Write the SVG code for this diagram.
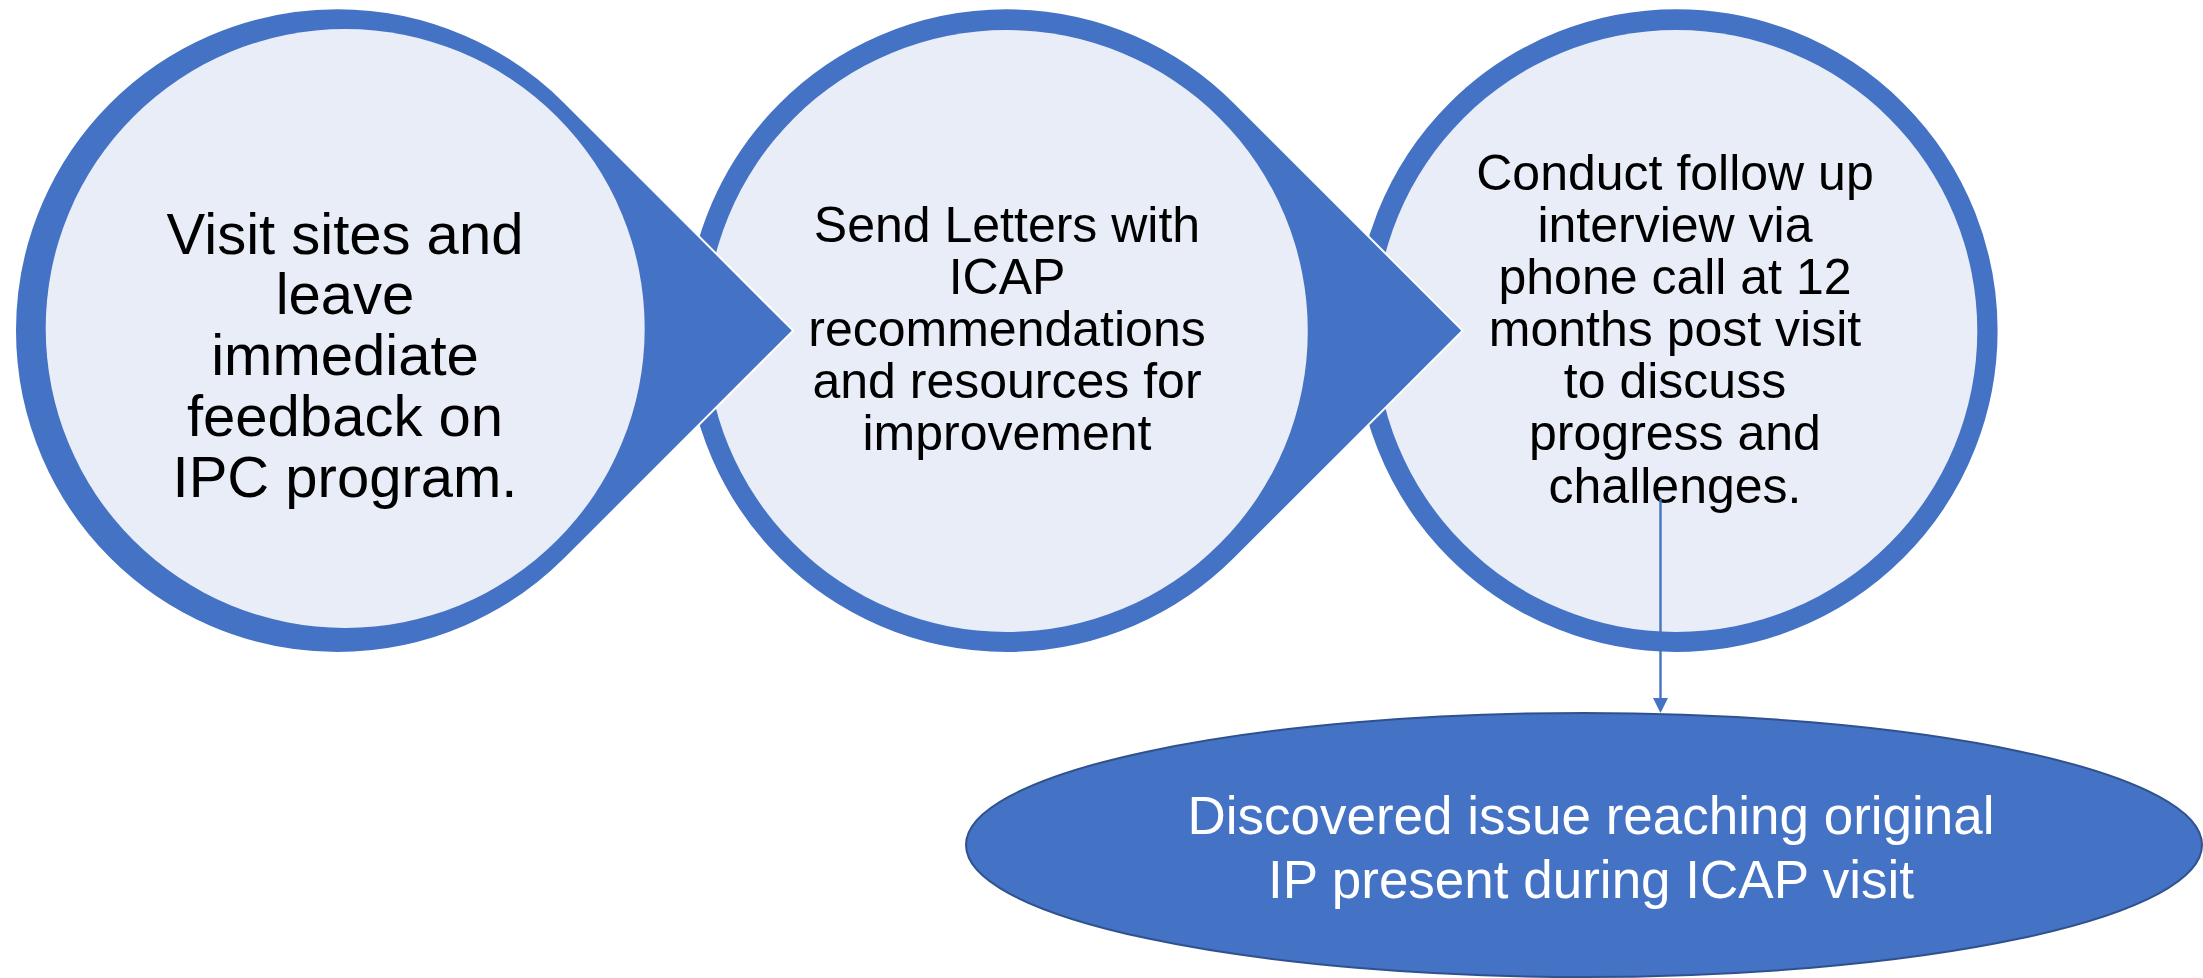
<svg xmlns="http://www.w3.org/2000/svg" width="2203" height="978" viewBox="0 0 2203 978">
  <style>
    .drop { fill: #4472C4; stroke: #FFFFFF; stroke-width: 2; stroke-linejoin: miter; }
    .inner { fill: #E9EDF7; }
    .lbl { font-family: "Liberation Sans", Arial, sans-serif; fill: #000000; text-anchor: middle; }
    .big { font-size: 58px; }
    .mid { font-size: 50px; }
    .lbl-white { font-family: "Liberation Sans", Arial, sans-serif; fill: #FFFFFF; text-anchor: middle; font-size: 53px; }
    .conn { stroke: #4472C4; stroke-width: 2.4; fill: none; }
  </style>

  <rect width="2203" height="978" fill="#FFFFFF"/>

  <!-- Step 3: plain ring, drawn first so the previous arrow overlaps it -->
  <g id="step3">
    <circle cx="1676.3" cy="330.6" r="322.3" class="drop"/>
    <circle cx="1676.3" cy="331" r="301" class="inner"/>
    <text class="lbl mid" x="1675" y="189.5">Conduct follow up</text>
    <text class="lbl mid" x="1675" y="241.5">interview via</text>
    <text class="lbl mid" x="1675" y="293.6">phone call at 12</text>
    <text class="lbl mid" x="1675" y="345.6">months post visit</text>
    <text class="lbl mid" x="1675" y="397.7">to discuss</text>
    <text class="lbl mid" x="1675" y="449.7">progress and</text>
    <text class="lbl mid" x="1675" y="502.5">challenges.</text>
  </g>

  <!-- Step 2: ring with arrow tip pointing to step 3 -->
  <g id="step2">
    <path class="drop" d="M1462.6,330.6 L1234.7,102.7 A322.3,322.3 0 1 0 1234.7,558.5 Z"/>
    <circle cx="1006.8" cy="331" r="301" class="inner"/>
    <text class="lbl mid" x="1007" y="241.5">Send Letters with</text>
    <text class="lbl mid" x="1007" y="293.6">ICAP</text>
    <text class="lbl mid" x="1007" y="345.6">recommendations</text>
    <text class="lbl mid" x="1007" y="397.7">and resources for</text>
    <text class="lbl mid" x="1007" y="449.7">improvement</text>
  </g>

  <!-- Step 1: ring with arrow tip pointing to step 2 -->
  <g id="step1">
    <path class="drop" d="M793.1,330.6 L565.2,102.7 A322.3,322.3 0 1 0 565.2,558.5 Z"/>
    <circle cx="345.2" cy="328.5" r="299.5" class="inner"/>
    <text class="lbl big" x="345" y="253.7">Visit sites and</text>
    <text class="lbl big" x="345" y="314.4">leave</text>
    <text class="lbl big" x="345" y="375.1">immediate</text>
    <text class="lbl big" x="345" y="435.8">feedback on</text>
    <text class="lbl big" x="345" y="496.5">IPC program.</text>
  </g>

  <!-- Outcome ellipse -->
  <g id="outcome">
    <ellipse cx="1584" cy="845" rx="618" ry="132" fill="#4472C4" stroke="#2F528F" stroke-width="2"/>
    <text class="lbl-white" x="1591" y="834">Discovered issue reaching original</text>
    <text class="lbl-white" x="1591" y="898">IP present during ICAP visit</text>
  </g>

  <!-- Connector from step 3 down to the outcome -->
  <g id="connectors">
    <line class="conn" x1="1660.5" y1="499" x2="1660.5" y2="700"/>
    <polygon points="1653,698 1668,698 1660.5,713" fill="#4472C4"/>
  </g>
</svg>
